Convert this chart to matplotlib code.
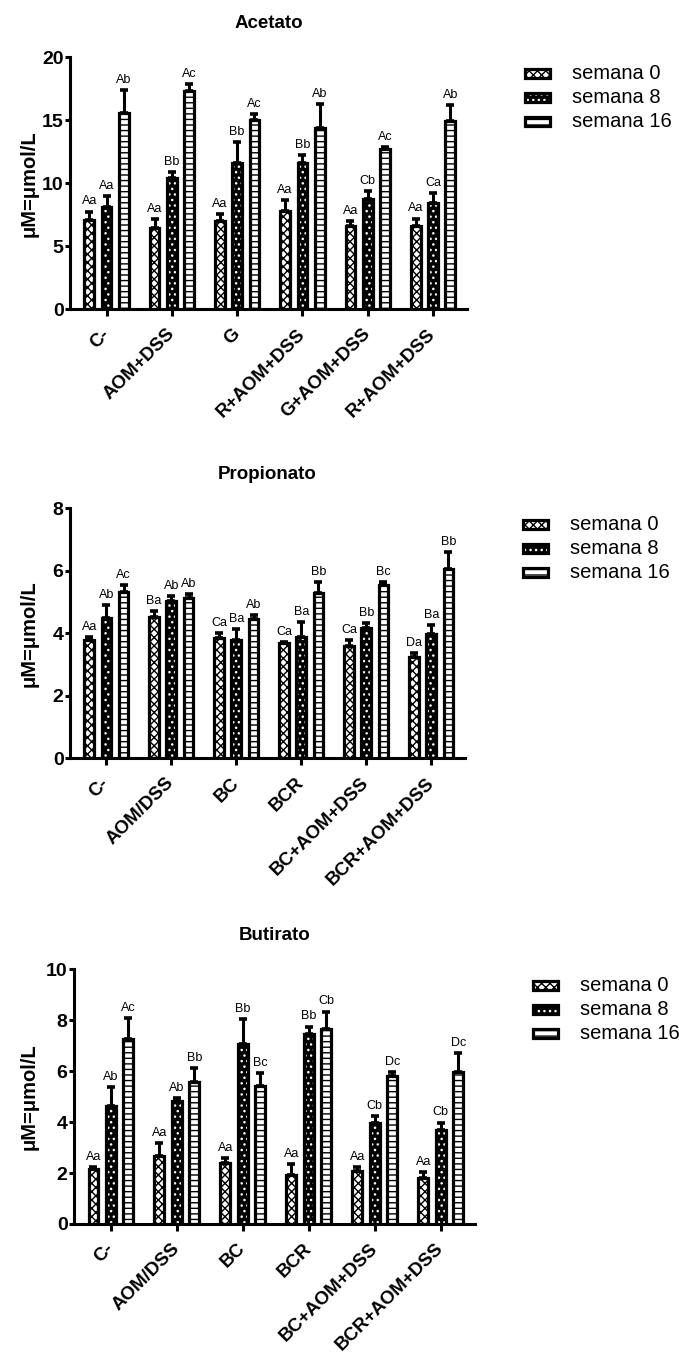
import numpy as np
import matplotlib
matplotlib.use("Agg")
import matplotlib.pyplot as plt
from matplotlib.patches import Rectangle

plt.rcParams['font.family'] = ['Liberation Sans', 'DejaVu Sans']
plt.rcParams['hatch.linewidth'] = 1.0

weeks = ["semana 0", "semana 8", "semana 16"]

# ---- Acetato ----
acet_groups = ["C-", "AOM+DSS", "G", "R+AOM+DSS", "G+AOM+DSS", "R+AOM+DSS"]
acet_w0 = [7.1, 6.45, 7.0, 7.8, 6.6, 6.6]
acet_w0_err = [0.65, 0.7, 0.55, 0.85, 0.4, 0.6]
acet_w8 = [8.15, 10.45, 11.6, 11.6, 8.75, 8.4]
acet_w8_err = [0.85, 0.45, 1.65, 0.65, 0.65, 0.8]
acet_w16 = [15.6, 17.35, 15.0, 14.4, 12.7, 14.95]
acet_w16_err = [1.8, 0.55, 0.5, 1.9, 0.2, 1.25]
acet_w0_lab = ["Aa", "Aa", "Aa", "Aa", "Aa", "Aa"]
acet_w8_lab = ["Aa", "Bb", "Bb", "Bb", "Cb", "Ca"]
acet_w16_lab = ["Ab", "Ac", "Ac", "Ab", "Ac", "Ab"]

# ---- Propionato ----
prop_groups = ["C-", "AOM/DSS", "BC", "BCR", "BC+AOM+DSS", "BCR+AOM+DSS"]
prop_w0 = [3.79, 4.53, 3.84, 3.68, 3.6, 3.24]
prop_w0_err = [0.1, 0.18, 0.18, 0.05, 0.19, 0.14]
prop_w8 = [4.5, 5.03, 3.79, 3.89, 4.18, 3.98]
prop_w8_err = [0.39, 0.16, 0.34, 0.48, 0.14, 0.27]
prop_w16 = [5.33, 5.12, 4.46, 5.28, 5.53, 6.05]
prop_w16_err = [0.22, 0.13, 0.11, 0.37, 0.12, 0.56]
prop_w0_lab = ["Aa", "Ba", "Ca", "Ca", "Ca", "Da"]
prop_w8_lab = ["Ab", "Ab", "Ba", "Ba", "Bb", "Ba"]
prop_w16_lab = ["Ac", "Ab", "Ab", "Bb", "Bc", "Bb"]

# ---- Butirato ----
but_groups = ["C-", "AOM/DSS", "BC", "BCR", "BC+AOM+DSS", "BCR+AOM+DSS"]
but_w0 = [2.15, 2.68, 2.38, 1.91, 2.09, 1.82]
but_w0_err = [0.07, 0.49, 0.2, 0.45, 0.13, 0.23]
but_w8 = [4.65, 4.83, 7.07, 7.46, 3.95, 3.68]
but_w8_err = [0.72, 0.1, 0.97, 0.29, 0.29, 0.3]
but_w16 = [7.25, 5.58, 5.42, 7.66, 5.82, 5.98]
but_w16_err = [0.83, 0.53, 0.5, 0.68, 0.14, 0.72]
but_w0_lab = ["Aa", "Aa", "Aa", "Aa", "Aa", "Aa"]
but_w8_lab = ["Ab", "Ab", "Bb", "Bb", "Cb", "Cb"]
but_w16_lab = ["Ac", "Bb", "Bc", "Cb", "Dc", "Dc"]

W, H = 679, 1353
fig = plt.figure(figsize=(W / 100, H / 100), dpi=100)

STYLES = [
    dict(face="white", hatch="xxxx", hcolor="black"),
    dict(face="black", hatch="...", hcolor="white"),
    dict(face="white", hatch="---", hcolor="black"),
]
EDGE_LW = 2.3
OFFSETS = [-0.265, 0.0, 0.265]
BAR_W = 0.15


def styled_bars(ax, x, h, st):
    ax.bar(x, h, BAR_W, color=st["face"], edgecolor="none", lw=0, zorder=2)
    ax.bar(x, h, BAR_W, color="none", edgecolor=st["hcolor"],
           hatch=st["hatch"], lw=0, zorder=3)
    ax.bar(x, h, BAR_W, color="none", edgecolor="black", lw=EDGE_LW, zorder=4)


def legend_box(ax):
    bb = ax.get_position()
    right_px = bb.x1 * W
    top_px = (1 - bb.y1) * H
    for i, (st, name) in enumerate(zip(STYLES, weeks)):
        yc = top_px + 16 + 24 * i
        x0 = right_px + 58
        y0 = H - (yc + 4.5)
        kw = dict(transform=fig.transFigure)
        rects = [
            Rectangle((x0 / W, y0 / H), 25 / W, 9 / H, facecolor=st["face"],
                      edgecolor="none", lw=0, **kw),
            Rectangle((x0 / W, y0 / H), 25 / W, 9 / H, facecolor="none",
                      edgecolor=st["hcolor"], hatch=st["hatch"], lw=0, **kw),
            Rectangle((x0 / W, y0 / H), 25 / W, 9 / H, facecolor="none",
                      edgecolor="black", lw=EDGE_LW, **kw),
        ]
        for r in rects:
            fig.patches.append(r)
        fig.text((right_px + 105) / W, 1 - yc / H, name, fontsize=14.5,
                 ha="left", va="center")


def panel(rect_px, title, groups, means, errs, labels, ymax, ystep):
    left, right, top, bottom = rect_px
    ax = fig.add_axes([left / W, 1 - bottom / H, (right - left) / W,
                       (bottom - top) / H])
    x = np.arange(len(groups))
    for k in range(3):
        xs = x + OFFSETS[k]
        m = np.asarray(means[k])
        e = np.asarray(errs[k])
        styled_bars(ax, xs, m, STYLES[k])
        ax.errorbar(xs, m, yerr=[np.zeros_like(e), e], fmt="none",
                    ecolor="black", elinewidth=2.2, capsize=2.6,
                    capthick=2.6, zorder=5)
        for xi, mi, ei, lab in zip(xs, m, e, labels[k]):
            ax.annotate(lab, (xi, mi + ei), xytext=(0, 3),
                        textcoords="offset points", ha="center",
                        va="bottom", fontsize=9)
    ax.set_xlim(-0.56, 5.52)
    ax.set_ylim(0, ymax)
    ax.set_yticks(np.arange(0, ymax + 0.01, ystep))
    ax.set_yticklabels([f"{int(v)}" for v in np.arange(0, ymax + 0.01, ystep)],
                       fontsize=14, fontweight="bold")
    ax.set_xticks(x)
    ax.set_xticklabels(groups, rotation=45, ha="right", va="center",
                       rotation_mode="anchor", fontsize=13.5,
                       fontweight="bold")
    for s in ("top", "right"):
        ax.spines[s].set_visible(False)
    for s in ("left", "bottom"):
        ax.spines[s].set_linewidth(2.2)
    ax.tick_params(axis="y", length=3.6, width=2.2, pad=1)
    ax.tick_params(axis="x", length=5, width=2.2, pad=11)
    ax.set_title(title, fontsize=13.5, fontweight="bold", pad=21)
    fig.text(29 / W, 1 - (top + bottom) / 2 / H, "μM=μmol/L", rotation=90,
             ha="center", va="center", fontsize=14.5, fontweight="bold")
    legend_box(ax)
    return ax


panel((70, 467, 57.3, 309.3), "Acetato", acet_groups,
      [acet_w0, acet_w8, acet_w16], [acet_w0_err, acet_w8_err, acet_w16_err],
      [acet_w0_lab, acet_w8_lab, acet_w16_lab], 20, 5)
panel((70, 465, 508.3, 758.3), "Propionato", prop_groups,
      [prop_w0, prop_w8, prop_w16], [prop_w0_err, prop_w8_err, prop_w16_err],
      [prop_w0_lab, prop_w8_lab, prop_w16_lab], 8, 2)
panel((74, 475, 969.3, 1224), "Butirato", but_groups,
      [but_w0, but_w8, but_w16], [but_w0_err, but_w8_err, but_w16_err],
      [but_w0_lab, but_w8_lab, but_w16_lab], 10, 2)

fig.savefig("out.png", dpi=100)
